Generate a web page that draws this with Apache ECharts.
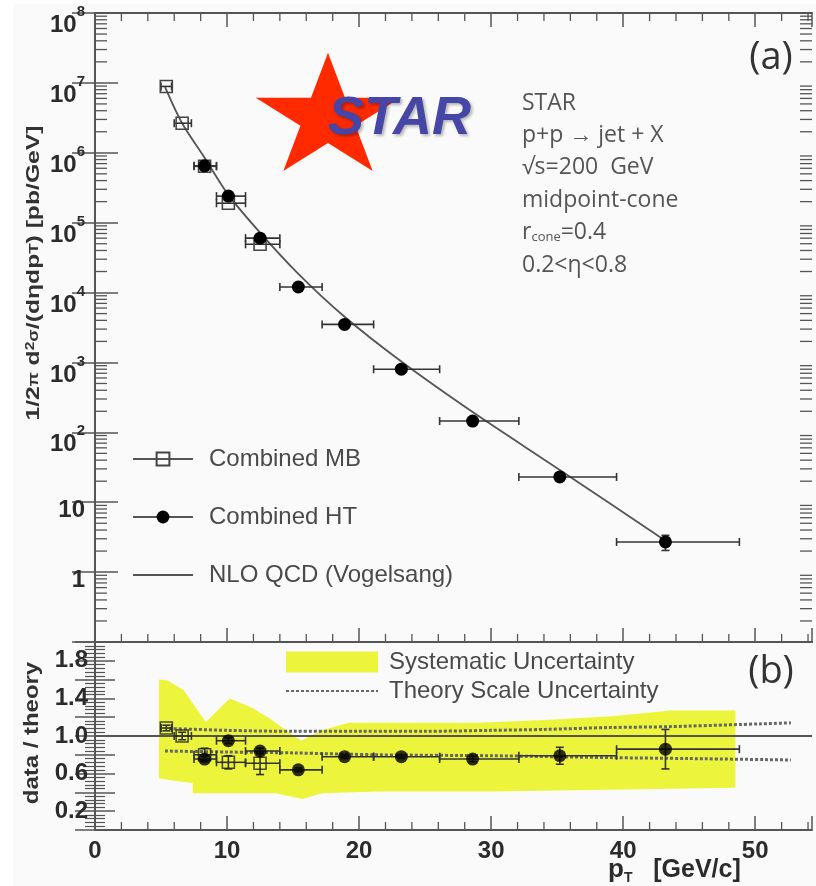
<!DOCTYPE html>
<html>
<head>
<meta charset="utf-8">
<script src="https://cdn.jsdelivr.net/npm/echarts@6/dist/echarts.min.js"></script>
<style>
  html, body { margin: 0; padding: 0; background: #ffffff; }
  #chart { width: 816px; height: 886px; }
</style>
</head>
<body>
<div id="chart"></div>
<script>
// Inclusive jet cross section, p+p -> jet + X at sqrt(s) = 200 GeV, with data/theory ratio.

// Combined HT sample: jet pT, cross section, bin edges, ratio to NLO and its error
const ptHT      = [8.3, 10.1, 12.5, 15.4, 18.9, 23.2, 28.6, 35.2, 43.2];
const xsecHT    = [6.5e5, 2.4e5, 6.0e4, 1.2e4, 3.5e3, 800, 145, 23, 2.7];
const binLoHT   = [7.5, 9.2, 11.4, 14.0, 17.2, 21.1, 26.1, 32.1, 39.5];
const binHiHT   = [9.2, 11.4, 14.0, 17.2, 21.1, 26.1, 32.1, 39.5, 48.8];
const ratioHT   = [0.755, 0.95, 0.84, 0.64, 0.78, 0.78, 0.755, 0.79, 0.86];
const ratioErrHT = [0.03, 0.03, 0.03, 0.02, 0.02, 0.02, 0.03, 0.09, 0.21];

// Combined MB sample
const ptMB      = [5.4, 6.6, 8.3, 10.1, 12.5];
const xsecMB    = [8.9e6, 2.65e6, 6.4e5, 1.9e5, 4.9e4];
const binLoMB   = [5.0, 6.0, 7.5, 9.2, 11.4];
const binHiMB   = [5.8, 7.3, 9.2, 11.4, 14.0];
const ratioMB   = [1.085, 1.0, 0.80, 0.72, 0.71];
const ratioErrMB = [0.03, 0.04, 0.07, 0.07, 0.12];

// NLO QCD (Vogelsang) prediction
const nloPt   = [5.3, 6.6, 8.3, 10.1, 12.5, 15.4, 18.9, 23.2, 28.6, 35.2, 43.2];
const nloXsec = [8.8e6, 2.65e6, 8.5e5, 2.5e5, 7.2e4, 1.85e4, 4.5e3, 1030, 195, 29, 2.8];

// Systematic uncertainty band on data/theory (upper and lower edges)
const sysUpPt = [4.85, 5.5, 6.7, 8.4, 10.2, 11.9, 13.2, 15.6, 17.2, 19.2, 23.0, 29.0, 34.1, 39.1, 43.6, 48.5];
const sysUp   = [1.60, 1.59, 1.49, 1.15, 1.40, 1.30, 1.19, 0.95, 1.06, 1.14, 1.14, 1.14, 1.17, 1.21, 1.27, 1.27];
const sysLoPt = [4.85, 6.7, 7.4, 7.4, 13.7, 15.7, 17.2, 21.5, 30.0, 40.0, 48.5];
const sysLo   = [0.55, 0.51, 0.50, 0.39, 0.39, 0.33, 0.39, 0.41, 0.41, 0.43, 0.45];

// Theory scale uncertainty (upper and lower dotted curves)
const scaleUpPt = [5.6, 10, 15, 20, 25, 30, 34, 39, 43.6, 52.7];
const scaleUp   = [1.08, 1.06, 1.05, 1.05, 1.05, 1.06, 1.07, 1.09, 1.10, 1.14];
const scaleLoPt = [5.3, 10, 15, 21.5, 30, 39, 45, 52.7];
const scaleLo   = [0.84, 0.83, 0.82, 0.80, 0.79, 0.77, 0.76, 0.745];

// Reference line at data/theory = 1
const unityPt = [0, 54.3];
const unity   = [1, 1];

// Axis ranges and tick labels
const PT_MAX = 54.3;
const ratioTickLabels = ['0.2', '0.6', '1.0', '1.4', '1.8'];

// Minor tick positions: 2..9 x 10^k on the log axis, every 2 GeV/c on pT
const logMinor = [];
for (let e = -1; e < 8; e++) for (let k = 2; k <= 9; k++) logMinor.push(k * Math.pow(10, e));
const ptMinor = [];
for (let v = 2; v <= 54; v += 2) if (v % 10 !== 0) ptMinor.push(v);

const FONT = '"Liberation Sans", Arial, Helvetica, sans-serif';
const SOFT = '"Open Sans", "Noto Sans", sans-serif';
const FRAME = '#555555';
const INK = '#2b2b2b';
const YELLOW = '#ecf53c';

const pairs = (xs, ys) => xs.map((x, i) => [x, ys[i]]);

function errorBars(name, xi, yi, xs, ys, lo, hi, ylo, yhi, z) {
  return {
    type: 'custom', name, xAxisIndex: xi, yAxisIndex: yi, z, silent: true,
    encode: { x: 0, y: 1 },
    data: xs.map((x, i) => [x, ys[i], lo[i], hi[i], ylo[i], yhi[i]]),
    renderItem(params, api) {
      const x = api.value(0), y = api.value(1);
      const p = api.coord([x, y]);
      const l = api.coord([api.value(2), y]);
      const r = api.coord([api.value(3), y]);
      const b = api.coord([x, api.value(4)]);
      const t = api.coord([x, api.value(5)]);
      const c = 4;
      const seg = (x1, y1, x2, y2) => ({
        type: 'line', shape: { x1, y1, x2, y2 },
        style: { stroke: '#333333', lineWidth: 1.6, fill: null }
      });
      const kids = [];
      if (r[0] - l[0] > 1) {
        kids.push(seg(l[0], p[1], r[0], p[1]), seg(l[0], p[1] - c, l[0], p[1] + c), seg(r[0], p[1] - c, r[0], p[1] + c));
      }
      if (b[1] - t[1] > 1) {
        kids.push(seg(p[0], b[1], p[0], t[1]), seg(p[0] - c, b[1], p[0] + c, b[1]), seg(p[0] - c, t[1], p[0] + c, t[1]));
      }
      return { type: 'group', children: kids };
    }
  };
}

// Short inward ticks along the frame edges
function tickSeries(xi, yi, values, vertical, yLow, yHigh, len, both) {
  return {
    type: 'custom', xAxisIndex: xi, yAxisIndex: yi, z: 8, silent: true,
    encode: { x: 0, y: 1 },
    data: vertical ? values.map(v => [1, v]) : values.map(v => [v, 1]),
    renderItem(params, api) {
      const st = { stroke: FRAME, lineWidth: 1.3, fill: null };
      const kids = [];
      if (vertical) {
        const v = api.value(1);
        const a = api.coord([0, v]);
        const b = api.coord([PT_MAX, v]);
        kids.push({ type: 'line', shape: { x1: a[0], y1: a[1], x2: a[0] + len, y2: a[1] }, style: st });
        kids.push({ type: 'line', shape: { x1: b[0], y1: b[1], x2: b[0] - len, y2: b[1] }, style: st });
      } else {
        const v = api.value(0);
        const a = api.coord([v, yLow]);
        const b = api.coord([v, yHigh]);
        kids.push({ type: 'line', shape: { x1: a[0], y1: a[1], x2: a[0], y2: a[1] - len }, style: st });
        if (both) kids.push({ type: 'line', shape: { x1: b[0], y1: b[1], x2: b[0], y2: b[1] + len }, style: st });
      }
      return { type: 'group', children: kids };
    }
  };
}

const lineStyleFrame = { color: FRAME, width: 2 };

function xAxisCfg(grid, position, labels, ticks) {
  return {
    type: 'value', gridIndex: grid, position, min: 0, max: PT_MAX, interval: 10,
    axisLine: { show: true, onZero: false, lineStyle: lineStyleFrame },
    axisTick: { show: ticks, inside: true, length: 14, lineStyle: { color: FRAME, width: 1.5 } },
    minorTick: { show: false },
    splitLine: { show: false },
    axisLabel: {
      show: labels, margin: 9, color: INK, fontFamily: FONT, fontWeight: 'bold', fontSize: 24,
      formatter: v => (Math.abs(v % 10) < 1e-6 ? String(Math.round(v)) : '')
    }
  };
}

function logAxisCfg(position, labels) {
  return {
    type: 'log', logBase: 10, gridIndex: 0, position, min: 0.1, max: 1e8, splitNumber: 9,
    axisLine: { show: true, lineStyle: lineStyleFrame },
    axisTick: { show: true, inside: true, length: 23, lineStyle: { color: FRAME, width: 1.5 } },
    minorTick: { show: false },
    splitLine: { show: false },
    axisLabel: {
      show: labels, margin: 10, color: INK, fontFamily: FONT, fontWeight: 'bold',
      padding: [16, 0, 0, 0],
      formatter: v => {
        const e = Math.round(Math.log10(v));
        if (e < 0) return '';
        if (e === 0) return '{n|1}';
        if (e === 1) return '{n|10}';
        return '{b|10}{s|' + e + '}';
      },
      rich: {
        n: { fontSize: 24, fontWeight: 'bold', fontFamily: FONT, color: INK },
        b: { fontSize: 24, fontWeight: 'bold', fontFamily: FONT, color: INK, padding: [9, 0, 0, 0] },
        s: { fontSize: 15, fontWeight: 'bold', fontFamily: FONT, color: INK, verticalAlign: 'top' }
      }
    }
  };
}

function ratioAxisCfg(position, labels) {
  return {
    type: 'value', gridIndex: 1, position, min: 0, max: 2, interval: 0.2,
    axisLine: { show: true, lineStyle: lineStyleFrame },
    axisTick: { show: true, inside: true, length: 20, lineStyle: { color: FRAME, width: 1.5 } },
    minorTick: { show: true, splitNumber: 5, length: 10, lineStyle: { color: FRAME, width: 1.2 } },
    splitLine: { show: false },
    axisLabel: {
      show: labels, margin: 7, color: INK, fontFamily: FONT, fontWeight: 'bold', fontSize: 24,
      padding: [8, 0, 0, 0],
      formatter: v => {
        const s = (Math.round(v * 10) / 10).toFixed(1);
        return ratioTickLabels.includes(s) ? s : '';
      }
    }
  };
}

// Five-pointed star of the experiment logo, slightly squashed vertically
const starPts = [];
for (let k = 0; k < 10; k++) {
  const ang = -Math.PI / 2 + k * Math.PI / 5;
  const rad = k % 2 === 0 ? 76 : 29;
  starPts.push([328 + rad * Math.cos(ang), 118 + 0.86 * rad * Math.sin(ang)]);
}

const infoLines = [
  'STAR',
  'p+p \u2192 jet + X',
  '\u221As=200  GeV',
  'midpoint-cone',
  '{t|r}{sub|cone}{t|=0.4}',
  '0.2<\u03B7<0.8'
];

const infoText = infoLines.map((txt, i) => ({
  type: 'text', x: 522, y: 103 + i * 32.4, z: 20,
  style: {
    text: txt, fill: '#555555', font: '23px ' + SOFT, verticalAlign: 'middle', align: 'left',
    rich: {
      t: { fontSize: 23, fontFamily: SOFT, fill: '#555555' },
      sub: { fontSize: 13, fontFamily: SOFT, fill: '#555555', padding: [10, 0, 0, 0] }
    }
  }
}));

const option = {
  backgroundColor: '#ffffff',
  animation: false,
  grid: [
    { left: 95, top: 13, width: 717, height: 629 },
    { left: 95, top: 642, width: 717, height: 188 }
  ],
  xAxis: [
    xAxisCfg(0, 'bottom', false, true),
    xAxisCfg(0, 'top', false, true),
    xAxisCfg(1, 'bottom', true, true),
    xAxisCfg(1, 'top', false, false)
  ],
  yAxis: [
    logAxisCfg('left', true),
    logAxisCfg('right', false),
    ratioAxisCfg('left', true),
    ratioAxisCfg('right', false)
  ],
  legend: [
    {
      orient: 'vertical', left: 132, top: 447, padding: 0, itemWidth: 60, itemHeight: 16, itemGap: 34,
      selectedMode: false,
      lineStyle: { opacity: 1 },
      textStyle: { fontFamily: FONT, fontSize: 24, color: '#4a4a4a', padding: [0, 0, 0, 11] },
      data: ['Combined MB', 'Combined HT', 'NLO QCD (Vogelsang)']
    },
    {
      orient: 'vertical', left: 285, top: 650, padding: 0, itemWidth: 92, itemHeight: 21, itemGap: 5,
      selectedMode: false,
      textStyle: { fontFamily: FONT, fontSize: 24, color: '#4a4a4a', padding: [0, 0, 0, 6] },
      data: [
        { name: 'Systematic Uncertainty', icon: 'rect' },
        { name: 'Theory Scale Uncertainty' }
      ]
    }
  ],
  graphic: [
    { type: 'rect', z: -10, silent: true, shape: { x: 13, y: 4, width: 803, height: 882 }, style: { fill: '#fafafa' } },
    { type: 'polygon', z: 10, silent: true, shape: { points: starPts }, style: { fill: '#ff2a00' } },
    {
      type: 'text', x: 328, y: 119, z: 11, silent: true,
      style: {
        text: 'STAR', fill: '#4646a6', font: 'italic bold 54px ' + FONT, verticalAlign: 'middle',
        textShadowColor: 'rgba(0,0,0,0.28)', textShadowBlur: 3, textShadowOffsetX: 2, textShadowOffsetY: 2
      }
    },
    ...infoText,
    { type: 'text', x: 771, y: 58, z: 20, style: { text: '(a)', fill: '#333333', font: '38px ' + SOFT, align: 'center', verticalAlign: 'middle' } },
    { type: 'text', x: 771, y: 672, z: 20, style: { text: '(b)', fill: '#333333', font: '38px ' + SOFT, align: 'center', verticalAlign: 'middle' } },
    {
      type: 'text', x: 34, y: 273, rotation: Math.PI / 2, scaleX: 1.3, z: 20,
      style: {
        text: '{a|1/2}{g|\u03C0}{a| d}{u|2}{g|\u03C3}{a|/(d\u03B7dp}{d|T}{a|) [pb/GeV]}',
        align: 'center', verticalAlign: 'middle',
        rich: {
          a: { fontFamily: FONT, fontWeight: 'bold', fontSize: 19, fill: '#333333' },
          g: { fontFamily: FONT, fontWeight: 'bold', fontSize: 14, fill: '#333333' },
          u: { fontFamily: FONT, fontWeight: 'bold', fontSize: 12, fill: '#333333', verticalAlign: 'top' },
          d: { fontFamily: FONT, fontWeight: 'bold', fontSize: 13, fill: '#333333' }
        }
      }
    },
    {
      type: 'text', x: 32, y: 733, rotation: Math.PI / 2, scaleX: 1.14, z: 20,
      style: { text: 'data / theory', fill: '#333333', font: 'bold 21px ' + FONT, align: 'center', verticalAlign: 'middle' }
    },
    {
      type: 'text', x: 608, y: 870, z: 20,
      style: {
        text: '{p|p}{t|T}{g|   [GeV/c]}', align: 'left', verticalAlign: 'middle',
        rich: {
          p: { fontFamily: FONT, fontWeight: 'bold', fontSize: 26, fill: INK, lineHeight: 30 },
          t: { fontFamily: FONT, fontWeight: 'bold', fontSize: 14, fill: INK, lineHeight: 14, verticalAlign: 'bottom' },
          g: { fontFamily: FONT, fontWeight: 'bold', fontSize: 25, fill: INK, lineHeight: 30 }
        }
      }
    }
  ],
  series: [
    // ---- frame minor ticks ----
    tickSeries(0, 0, logMinor, true, 0, 0, 12, false),
    tickSeries(0, 0, ptMinor, false, 0.1, 1e8, 8, true),
    tickSeries(2, 2, ptMinor, false, 0, 2, 8, false),
    // ---- upper panel ----
    {
      name: 'NLO QCD (Vogelsang)', type: 'line', xAxisIndex: 0, yAxisIndex: 0, z: 2,
      data: pairs(nloPt, nloXsec), smooth: 0.3, symbol: 'circle', showSymbol: false, silent: true,
      lineStyle: { color: '#555555', width: 1.8 }, itemStyle: { color: 'rgba(0,0,0,0)' }
    },
    errorBars('mbErr', 0, 0, ptMB, xsecMB, binLoMB, binHiMB, xsecMB, xsecMB, 3),
    {
      name: 'Combined MB', type: 'line', xAxisIndex: 0, yAxisIndex: 0, z: 4,
      data: pairs(ptMB, xsecMB), symbol: 'rect', symbolSize: 12, showSymbol: true, silent: true,
      lineStyle: { color: '#555555', width: 1.6, opacity: 0 },
      itemStyle: { color: 'rgba(0,0,0,0)', borderColor: '#444444', borderWidth: 1.6 }
    },
    errorBars('htErr', 0, 0, ptHT, xsecHT, binLoHT, binHiHT,
      xsecHT.map((v, i) => v * (1 - ratioErrHT[i] / ratioHT[i])),
      xsecHT.map((v, i) => v * (1 + ratioErrHT[i] / ratioHT[i])), 5),
    {
      name: 'Combined HT', type: 'line', xAxisIndex: 0, yAxisIndex: 0, z: 6,
      data: pairs(ptHT, xsecHT), symbol: 'circle', symbolSize: 13, showSymbol: true, silent: true,
      lineStyle: { color: '#555555', width: 1.6, opacity: 0 },
      itemStyle: { color: '#000000' }
    },
    // ---- ratio panel ----
    {
      name: 'Systematic Uncertainty', type: 'custom', xAxisIndex: 2, yAxisIndex: 2, z: 1, silent: true,
      itemStyle: { color: YELLOW },
      encode: { x: 0, y: 1 },
      data: pairs(sysUpPt, sysUp),
      renderItem(params, api) {
        if (params.dataIndex !== 0) return;
        const pts = sysUpPt.map((x, i) => api.coord([x, sysUp[i]]));
        for (let i = sysLoPt.length - 1; i >= 0; i--) pts.push(api.coord([sysLoPt[i], sysLo[i]]));
        return { type: 'polygon', shape: { points: pts }, style: { fill: YELLOW } };
      }
    },
    {
      name: 'unity', type: 'line', xAxisIndex: 2, yAxisIndex: 2, z: 2, silent: true,
      data: pairs(unityPt, unity), symbol: 'none',
      lineStyle: { color: '#555555', width: 1.8 }
    },
    {
      name: 'Theory Scale Uncertainty', type: 'line', xAxisIndex: 2, yAxisIndex: 2, z: 3, silent: true,
      data: pairs(scaleUpPt, scaleUp), symbol: 'circle', showSymbol: false, smooth: 0.3,
      lineStyle: { color: '#666666', width: 3, type: [3, 2] }, itemStyle: { color: 'rgba(0,0,0,0)' }
    },
    {
      name: 'Theory Scale Uncertainty', type: 'line', xAxisIndex: 2, yAxisIndex: 2, z: 3, silent: true,
      data: pairs(scaleLoPt, scaleLo), symbol: 'circle', showSymbol: false, smooth: 0.3,
      lineStyle: { color: '#666666', width: 3, type: [3, 2] }, itemStyle: { color: 'rgba(0,0,0,0)' }
    },
    errorBars('mbRatioErr', 2, 2, ptMB, ratioMB, binLoMB, binHiMB,
      ratioMB.map((v, i) => v - ratioErrMB[i]), ratioMB.map((v, i) => v + ratioErrMB[i]), 4),
    {
      name: 'mbRatio', type: 'scatter', xAxisIndex: 2, yAxisIndex: 2, z: 5, silent: true,
      data: pairs(ptMB, ratioMB), symbol: 'rect', symbolSize: 12,
      itemStyle: { color: 'rgba(0,0,0,0)', borderColor: '#222222', borderWidth: 1.6 }
    },
    errorBars('htRatioErr', 2, 2, ptHT, ratioHT, binLoHT, binHiHT,
      ratioHT.map((v, i) => v - ratioErrHT[i]), ratioHT.map((v, i) => v + ratioErrHT[i]), 6),
    {
      name: 'htRatio', type: 'scatter', xAxisIndex: 2, yAxisIndex: 2, z: 7, silent: true,
      data: pairs(ptHT, ratioHT), symbol: 'circle', symbolSize: 13,
      itemStyle: { color: '#000000' }
    }
  ]
};

const chart = echarts.init(document.getElementById('chart'), null, { renderer: 'canvas' });
chart.setOption(option);
</script>
</body>
</html>
